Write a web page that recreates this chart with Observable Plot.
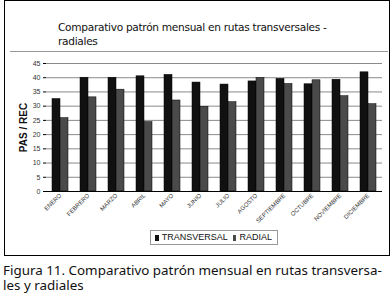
<!DOCTYPE html>
<html><head><meta charset="utf-8">
<script src="https://cdn.jsdelivr.net/npm/d3@7"></script>
<script src="https://cdn.jsdelivr.net/npm/@observablehq/plot@0.6"></script>
<style>
body{margin:0;background:#fff;width:391px;height:307px;position:relative;overflow:hidden;font-family:"Liberation Sans",Arial,sans-serif}
#box{position:absolute;left:4px;top:0px;width:386px;height:256px;border:1px solid #000;box-sizing:border-box}
#title{position:absolute;left:58px;top:20px;font-size:10.6px;line-height:14px;color:#111;font-family:"DejaVu Sans",sans-serif;letter-spacing:-0.3px}
#sep{position:absolute;left:10px;top:51px;width:378px;height:1px;background:#999}
#chart{position:absolute;left:0;top:56px}
#legend{position:absolute;left:150px;top:230px;width:128px;height:15px;border:1px solid #999;box-sizing:border-box;font-size:9px;line-height:13px;display:flex;align-items:center;padding-left:4px;color:#111}
.sw{display:inline-block;width:6px;height:6px;margin-right:3px}
#caption{position:absolute;left:3px;top:263px;font-size:13.4px;line-height:15px;color:#111;font-family:"Noto Sans",sans-serif}
</style></head>
<body>
<div id="box"></div>
<div id="title">Comparativo patrón mensual en rutas transversales -<br>radiales</div>
<div id="sep"></div>
<div id="chart"></div>
<div id="legend"></div>
<div id="caption">Figura 11. Comparativo patrón mensual en rutas transversa-<br>les y radiales</div>
<script>
const months = ["ENERO","FEBRERO","MARZO","ABRIL","MAYO","JUNIO","JULIO","AGOSTO","SEPTIEMBRE","OCTUBRE","NOVIEMBRE","DICIEMBRE"];
const series = ["TRANSVERSAL","RADIAL"];
const transversal = [32.5,40.0,40.0,40.5,41.0,38.3,37.6,38.7,39.6,37.7,39.3,41.9];
const radial = [25.8,33.1,35.8,24.4,32.0,29.8,31.4,39.9,37.8,39.1,33.5,30.7];
const yTicks = [0,5,10,15,20,25,30,35,40,45];
const colors = ["#111111","#4a4a4a"];

const data = [];
months.forEach((m,i)=>{
  data.push({month:m, serie:series[0], value:transversal[i]});
  data.push({month:m, serie:series[1], value:radial[i]});
});

const chart = Plot.plot({
  width:391, height:172,
  marginLeft:44, marginRight:8, marginTop:7, marginBottom:37,
  style:{fontFamily:"Liberation Sans, Arial, sans-serif", background:"transparent"},
  fx:{domain:months, padding:0, label:null},
  x:{domain:series, paddingInner:0, paddingOuter:0.65, axis:null},
  y:{domain:[0,45], label:null},
  color:{domain:series, range:colors},
  marks:[
    Plot.gridY(yTicks, {stroke:"#8a8a8a", strokeOpacity:1}),
    Plot.barY(data, {fx:"month", x:"serie", y:"value", fill:"serie", stroke:"#000", strokeWidth:0.5}),
    Plot.ruleY([0], {stroke:"#000"}),
    Plot.axisY(yTicks, {tickSize:3, fontSize:7, fill:"#333", tickPadding:3}),
    Plot.axisY({ticks:[], tickSize:0, label:"PAS / REC", labelAnchor:"center", labelArrow:"none", labelOffset:27, fontSize:10, fontWeight:"bold", fill:"#111"}),
    Plot.axisFx({anchor:"bottom", tickRotate:-45, fontSize:6, fill:"#333", tickSize:0, tickPadding:3, label:null})
  ]
});
document.getElementById("chart").appendChild(chart);

const lg = document.getElementById("legend");
series.forEach((s,i)=>{
  const sw = document.createElement("span"); sw.className="sw"; sw.style.background=colors[i];
  lg.appendChild(sw);
  const t = document.createElement("span"); t.textContent=s; t.style.marginRight="5px";
  lg.appendChild(t);
});
</script>
</body></html>
